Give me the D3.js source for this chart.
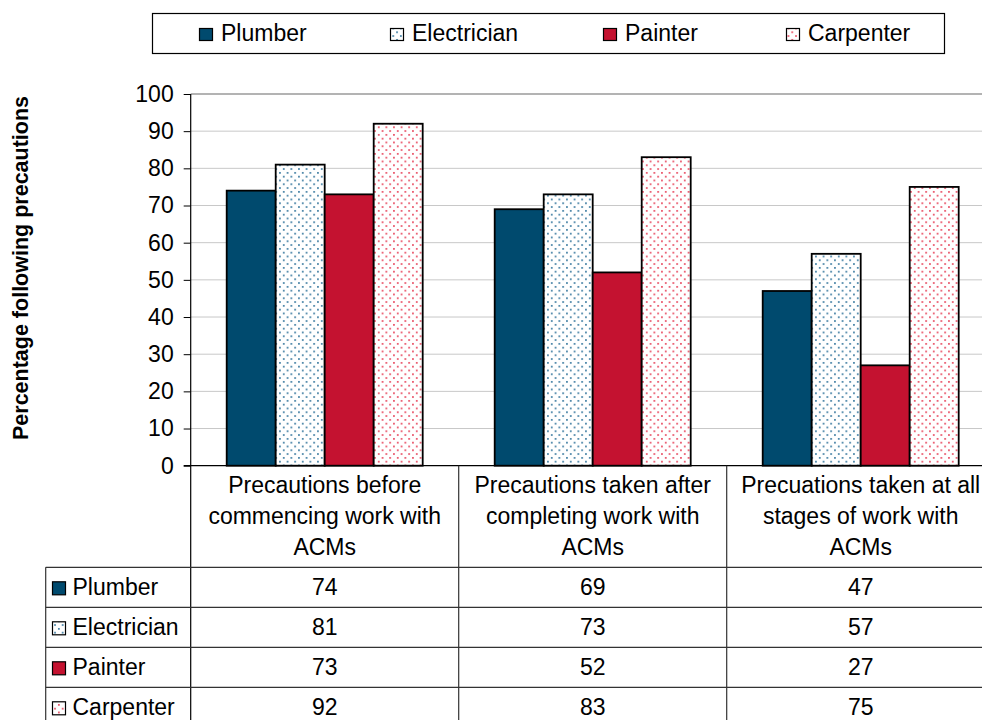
<!DOCTYPE html>
<html>
<head>
<meta charset="utf-8">
<script src="https://cdn.jsdelivr.net/npm/d3@7"></script>
<style>
  html, body { margin: 0; padding: 0; background: #fff; }
  svg { display: block; font-family: "Liberation Sans", Arial, sans-serif; }
</style>
</head>
<body>
<svg id="chart" width="982" height="720"></svg>
<script>
// Survey results: share of each trade following asbestos precautions
const categories = [
  ["Precautions before", "commencing work with", "ACMs"],
  ["Precautions taken after", "completing work with", "ACMs"],
  ["Precuations taken at all", "stages of work with", "ACMs"]
];
const series = ["Plumber", "Electrician", "Painter", "Carpenter"];
const plumber = [74, 69, 47];
const electrician = [81, 73, 57];
const painter = [73, 52, 27];
const carpenter = [92, 83, 75];
const yTicks = [0, 10, 20, 30, 40, 50, 60, 70, 80, 90, 100];
const yTitle = "Percentage following precautions";

const valuesBySeries = [plumber, electrician, painter, carpenter];
const styles = [
  { fill: "#004a6e" },
  { pattern: "dots-blue", dot: "#3a7aa0" },
  { fill: "#c41230" },
  { pattern: "dots-red", dot: "#e8485e" }
];
const FS = 23;

const svg = d3.select("#chart");
const defs = svg.append("defs");

// dotted fills for the patterned series
styles.filter(s => s.pattern).forEach(s => {
  const p = defs.append("pattern")
    .attr("id", s.pattern)
    .attr("patternUnits", "userSpaceOnUse")
    .attr("width", 7.6).attr("height", 7.6);
  p.append("rect").attr("width", 7.6).attr("height", 7.6).attr("fill", "#fff");
  p.append("rect").attr("x", 1).attr("y", 1).attr("width", 1.7).attr("height", 1.7).attr("fill", s.dot);
  p.append("rect").attr("x", 4.8).attr("y", 4.8).attr("width", 1.7).attr("height", 1.7).attr("fill", s.dot);
});
const fillOf = i => styles[i].pattern ? `url(#${styles[i].pattern})` : styles[i].fill;

const plotLeft = 190.7, plotTop = 94, plotBottom = 465.7, plotRight = 994.7;
const tableLeft = 45.7, headerBottom = 567.3, rowH = 40;

const catKeys = categories.map((c, i) => i);
const x0 = d3.scaleBand().domain(catKeys).range([plotLeft, plotRight]).padding(0);
const x1 = d3.scaleBand().domain(series).range([36, x0.bandwidth() - 36]).padding(0);
const y = d3.scaleLinear().domain([0, 100]).range([plotBottom, plotTop]);

// gridlines
svg.append("g").selectAll("line")
  .data(yTicks.filter(t => t > 0))
  .join("line")
  .attr("x1", plotLeft).attr("x2", plotRight)
  .attr("y1", d => y(d)).attr("y2", d => y(d))
  .attr("stroke", d => d === 100 ? "#9a9a9a" : "#c8c8c8")
  .attr("stroke-width", d => d === 100 ? 1.5 : 1);

// y axis
const yAxis = svg.append("g")
  .attr("transform", `translate(${plotLeft},0)`)
  .call(d3.axisLeft(y).tickValues(yTicks).tickSize(7).tickPadding(10));
yAxis.select(".domain").remove();
yAxis.selectAll(".tick line").attr("stroke", "#000");
yAxis.selectAll(".tick text")
  .attr("font-size", FS).attr("fill", "#000")
  .attr("font-family", "Liberation Sans, Arial, sans-serif");

// bars
const groups = svg.append("g").selectAll("g")
  .data(catKeys)
  .join("g")
  .attr("transform", d => `translate(${x0(d)},0)`);
groups.selectAll("rect")
  .data(ci => series.map((s, si) => ({ s, si, v: valuesBySeries[si][ci] })))
  .join("rect")
  .attr("x", d => x1(d.s))
  .attr("y", d => y(d.v))
  .attr("width", x1.bandwidth())
  .attr("height", d => y(0) - y(d.v))
  .attr("fill", d => fillOf(d.si))
  .attr("stroke", "#000")
  .attr("stroke-width", 1.8);

// axis baseline and left spine
svg.append("line").attr("x1", plotLeft - 7).attr("x2", plotRight)
  .attr("y1", plotBottom).attr("y2", plotBottom).attr("stroke", "#000").attr("stroke-width", 1.2);
svg.append("line").attr("x1", plotLeft).attr("x2", plotLeft)
  .attr("y1", plotTop).attr("y2", 720).attr("stroke", "#000").attr("stroke-width", 1.2);

// data table: column separators
svg.append("g").selectAll("line")
  .data(catKeys.slice(1))
  .join("line")
  .attr("x1", d => x0(d)).attr("x2", d => x0(d))
  .attr("y1", plotBottom).attr("y2", 720)
  .attr("stroke", "#333").attr("stroke-width", 1.2);

// data table: row separators
const rowTops = series.map((s, i) => headerBottom + i * rowH);
svg.append("g").selectAll("line")
  .data(rowTops)
  .join("line")
  .attr("x1", tableLeft).attr("x2", plotRight)
  .attr("y1", d => d).attr("y2", d => d)
  .attr("stroke", "#333").attr("stroke-width", 1.2);
svg.append("line").attr("x1", tableLeft).attr("x2", tableLeft)
  .attr("y1", headerBottom).attr("y2", 720).attr("stroke", "#333").attr("stroke-width", 1.2);

// category labels
const catText = svg.append("g").selectAll("text")
  .data(catKeys)
  .join("text")
  .attr("text-anchor", "middle")
  .attr("font-size", FS)
  .attr("fill", "#000");
catText.each(function (ci) {
  const t = d3.select(this);
  categories[ci].forEach((line, li) => {
    t.append("tspan")
      .attr("x", x0(ci) + x0.bandwidth() / 2)
      .attr("y", 493 + li * 31)
      .text(line);
  });
});

// table rows: legend key, name, values
series.forEach((s, si) => {
  const top = rowTops[si];
  svg.append("rect")
    .attr("x", 52.5).attr("y", top + 14.5)
    .attr("width", 13).attr("height", 13)
    .attr("fill", fillOf(si)).attr("stroke", "#000").attr("stroke-width", 1.2);
  svg.append("text")
    .attr("x", 72.5).attr("y", top + 27.8)
    .attr("font-size", FS).attr("fill", "#000")
    .text(s);
  catKeys.forEach(ci => {
    svg.append("text")
      .attr("x", x0(ci) + x0.bandwidth() / 2)
      .attr("y", top + 27.8)
      .attr("text-anchor", "middle")
      .attr("font-size", FS).attr("fill", "#000")
      .text(valuesBySeries[si][ci]);
  });
});

// y axis title
svg.append("text")
  .attr("transform", `translate(28,268) rotate(-90)`)
  .attr("text-anchor", "middle")
  .attr("font-size", 21.5).attr("font-weight", "bold").attr("fill", "#000")
  .text(yTitle);

// legend
svg.append("rect")
  .attr("x", 152.5).attr("y", 13.5).attr("width", 792).attr("height", 40)
  .attr("fill", "#fff").attr("stroke", "#000").attr("stroke-width", 1.2);
const legendTextX = [221, 412, 625, 808];
series.forEach((s, si) => {
  svg.append("rect")
    .attr("x", legendTextX[si] - 21.5).attr("y", 28.5)
    .attr("width", 13).attr("height", 12)
    .attr("fill", fillOf(si)).attr("stroke", "#000").attr("stroke-width", 1.2);
  svg.append("text")
    .attr("x", legendTextX[si]).attr("y", 41)
    .attr("font-size", FS).attr("fill", "#000")
    .text(s);
});
</script>
</body>
</html>
